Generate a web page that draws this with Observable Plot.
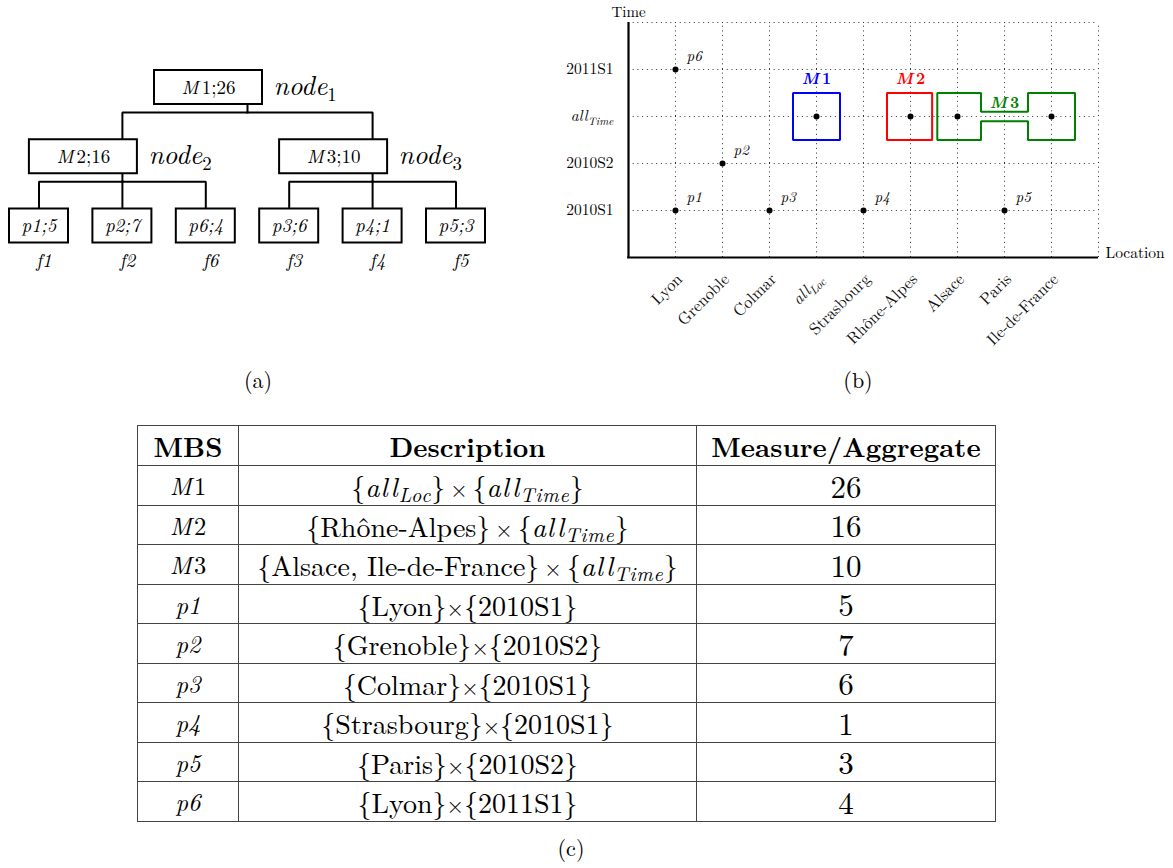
<!DOCTYPE html>
<html>
<head>
<meta charset="utf-8">
<script src="https://cdn.jsdelivr.net/npm/d3@7"></script>
<script src="https://cdn.jsdelivr.net/npm/@observablehq/plot@0.6"></script>
<style>
  html, body { margin: 0; padding: 0; background: #fff; }
  body { width: 1173px; height: 868px; position: relative; overflow: hidden;
         font-family: "Latin Modern Roman", "Liberation Serif", serif; color: #000; }
  .abs { position: absolute; }
  .cap { position: absolute; font-size: 22px; transform: translateX(-50%); line-height: 1; }
  svg { overflow: visible; }
  table.mbs { position: absolute; left: 137px; top: 425px; border-collapse: collapse;
              table-layout: fixed; width: 858px; }
  table.mbs td, table.mbs th { border: 1.3px solid #444; text-align: center; padding: 0;
              height: 38.5px; font-size: 28px; font-weight: normal; line-height: 1; white-space: nowrap; }
  table.mbs th { font-weight: bold; font-size: 27px; height: 39px; }
  table.mbs td.mbsname { font-size: 24.5px; }
  table.mbs td.num { font-size: 31px; }
  sub { font-size: 0.72em; vertical-align: -0.25em; line-height: 0; }
  .math { letter-spacing: 0.03em; }
  .times { font-size: 0.8em; }
  .sp { margin: 0 0.22em; }
</style>
</head>
<body>
<div id="tree" class="abs" style="left:0;top:0"></div>
<div id="cube" class="abs" style="left:540px;top:0"></div>
<div class="cap" style="left:258px;top:368px">(a)</div>
<div class="cap" style="left:858px;top:368px">(b)</div>
<div id="tablewrap"></div>
<div class="cap" style="left:571px;top:836px">(c)</div>
<script>
// ---------------- data ----------------
// (a) tree of MBS nodes
const treeIds     = ["M1", "M2", "M3", "p1", "p2", "p6", "p3", "p4", "p5"];
const treeParents = [null, "M1", "M1", "M2", "M2", "M2", "M3", "M3", "M3"];
const treeValues  = [26, 16, 10, 5, 7, 4, 6, 1, 3];

// (b) location x time grid
const locations = ["Lyon", "Grenoble", "Colmar", "allLoc", "Strasbourg", "Rhône-Alpes", "Alsace", "Paris", "Ile-de-France"];
const times = ["2010S1", "2010S2", "allTime", "2011S1"];
const pointNames = ["p1", "p2", "p3", "p4", "p5", "p6"];
const pointLocations = ["Lyon", "Grenoble", "Colmar", "Strasbourg", "Paris", "Lyon"];
const pointTimes = ["2010S1", "2010S2", "2010S1", "2010S1", "2010S1", "2011S1"];
const mbsNames = ["M1", "M2", "M3"];
const mbsLocations = [["allLoc"], ["Rhône-Alpes"], ["Alsace", "Ile-de-France"]];
const mbsTimes = ["allTime", "allTime", "allTime"];

// (c) table
const tableHeader = ["MBS", "Description", "Measure/Aggregate"];
const tableMbs = ["M1", "M2", "M3", "p1", "p2", "p3", "p4", "p5", "p6"];
const tableDescriptions = [
  "{allLoc} × {allTime}",
  "{Rhône-Alpes} × {allTime}",
  "{Alsace, Ile-de-France} × {allTime}",
  "{Lyon}×{2010S1}",
  "{Grenoble}×{2010S2}",
  "{Colmar}×{2010S1}",
  "{Strasbourg}×{2010S1}",
  "{Paris}×{2010S2}",
  "{Lyon}×{2011S1}"
];
const tableMeasures = [26, 16, 10, 5, 7, 6, 1, 3, 4];

// ---------------- helpers ----------------
const SERIF = "'Latin Modern Roman', 'Liberation Serif', serif";
function richSvgText(svg) {
  svg.querySelectorAll("text").forEach(t => {
    const s = t.textContent;
    let m;
    if ((m = s.match(/^all(Loc|Time)$/))) {
      t.innerHTML = `<tspan font-style="italic">all</tspan><tspan font-style="italic" font-size="0.72em" dy="0.3em">${m[1]}</tspan>`;
    } else if ((m = s.match(/^node(\d)$/))) {
      t.innerHTML = `node<tspan font-size="0.7em" dy="0.3em" font-style="normal">${m[1]}</tspan>`;
    } else if ((m = s.match(/^M(\d);(\d+)$/))) {
      t.innerHTML = `<tspan font-style="italic">M</tspan><tspan dx="3">${m[1]};${m[2]}</tspan>`;
    } else if ((m = s.match(/^M (\d)$/))) {
      t.innerHTML = `<tspan font-style="italic">M</tspan><tspan dx="3" font-style="normal">${m[1]}</tspan>`;
    }
  });
}
function richHtml(s) {
  return s.replace(/all(Loc|Time)/g, (a, b) => `<i class="math">all<sub>${b}</sub></i>`)
          .replace(/ × /g, "<span class='times sp'>×</span>")
          .replace(/×(?!<)/g, "<span class='times'>×</span>");
}
function mbsHtml(s) {
  return s.startsWith("M") ? `<i style="margin-right:0.1em">M</i>${s.slice(1)}` : `<i>${s}</i>`;
}

// ---------------- (a) tree ----------------
{
  const table = treeIds.map((id, i) => ({id, parent: treeParents[i], value: treeValues[i]}));
  const root = d3.stratify().id(d => d.id).parentId(d => d.parent)(table);
  d3.tree().nodeSize([83.4, 69.25]).separation(() => 1)(root);
  const nodes = root.descendants();
  const internal = nodes.filter(d => d.children);
  const leaves = root.leaves();
  const bh = 17; // half box height
  const chart = Plot.plot({
    width: 500, height: 290, margin: 0,
    x: {domain: [-247, 253], range: [0, 500], axis: null},
    y: {domain: [-87, 203], range: [0, 290], axis: null},
    style: {fontFamily: SERIF, background: "transparent"},
    marks: [
      Plot.ruleX(internal, {x: d => d.x, y1: d => d.y + bh, y2: d => d.y + bh + 8, stroke: "black", strokeWidth: 2}),
      Plot.link(nodes.filter(d => d.parent), {
        x1: d => d.parent.x, y1: d => d.parent.y + bh + 8,
        x2: d => d.x, y2: d => d.y - bh,
        curve: "step-after", stroke: "black", strokeWidth: 2, strokeLinejoin: "miter", strokeLinecap: "square"
      }),
      Plot.rect(internal, {x1: d => d.x - 93, x2: d => d.x + 15, y1: d => d.y - bh, y2: d => d.y + bh,
        fill: "white", stroke: "black", strokeWidth: 2}),
      Plot.rect(leaves, {x1: d => d.x - 29.5, x2: d => d.x + 29.5, y1: d => d.y - bh, y2: d => d.y + bh,
        fill: "white", stroke: "black", strokeWidth: 2}),
      Plot.text(internal, {x: d => d.x - 39, y: d => d.y, text: d => `${d.id};${d.data.value}`, fontSize: 19}),
      Plot.text(internal, {x: d => d.x + 26, y: d => d.y, text: (d, i) => `node${i + 1}`, textAnchor: "start",
        fontSize: 27, fontStyle: "italic", dy: -1}),
      Plot.text(leaves, {x: d => d.x, y: d => d.y, text: d => `${d.id};${d.data.value}`, fontSize: 19,
        fontStyle: "italic", letterSpacing: "1px"}),
      Plot.text(leaves, {x: d => d.x + 5, y: d => d.y + 35, text: d => "f" + d.id.slice(1), fontSize: 19,
        fontStyle: "italic"})
    ]
  });
  richSvgText(chart);
  document.getElementById("tree").append(chart);
}

// ---------------- (b) location x time ----------------
{
  const locIndex = new Map(locations.map((d, i) => [d, i + 1]));
  const timeIndex = new Map(times.map((d, i) => [d, i + 1]));
  const nX = locations.length + 1, nY = times.length + 1;
  const points = pointNames.map((name, i) => ({name, x: locIndex.get(pointLocations[i]), y: timeIndex.get(pointTimes[i])}));
  const mbsColors = ["#0000ff", "#ff0000", "#008000"];
  const mbsPad = [[0.5, 0.5], [0.5, 0.46], [0.43, 0.5]];
  const cells = mbsNames.flatMap((name, i) => mbsLocations[i].map(l => ({name, x: locIndex.get(l), y: timeIndex.get(mbsTimes[i])})));
  function outline(i) {
    const xs = mbsLocations[i].map(l => locIndex.get(l));
    const a = d3.min(xs), b = d3.max(xs), y = timeIndex.get(mbsTimes[i]);
    const [pl, pr] = mbsPad[i];
    let pts;
    if (a === b) {
      pts = [[a - pl, y + .5], [b + pr, y + .5], [b + pr, y - .5], [a - pl, y - .5]];
    } else {
      const n = 0.1;
      pts = [[a - pl, y + .5], [a + .5, y + .5], [a + .5, y + n], [b - .5, y + n], [b - .5, y + .5], [b + pr, y + .5],
             [b + pr, y - .5], [b - .5, y - .5], [b - .5, y - n], [a + .5, y - n], [a + .5, y - .5], [a - pl, y - .5]];
    }
    pts.push(pts[0], pts[1]);
    return pts.map(([x, y]) => ({x, y}));
  }
  const mbsLabels = mbsNames.map((name, i) => {
    const xs = mbsLocations[i].map(l => locIndex.get(l));
    const single = xs.length === 1;
    return {name: name[0] + " " + name.slice(1), x: d3.mean(xs), y: timeIndex.get(mbsTimes[i]) + (single ? 0.5 : 0.3), dy: single ? -14 : 0, color: mbsColors[i]};
  });
  const grid = {stroke: "#333", strokeWidth: 1, strokeDasharray: "1,3.7"};
  const chart = Plot.plot({
    width: 633, height: 345,
    marginLeft: 88, marginRight: 75, marginTop: 22, marginBottom: 88,
    x: {domain: [0, nX], axis: null},
    y: {domain: [0, nY], axis: null},
    style: {fontFamily: SERIF, background: "transparent"},
    marks: [
      Plot.ruleX(d3.range(1, nX + 1), {y1: 0, y2: nY, ...grid}),
      Plot.ruleY(d3.range(1, nY + 1), {x1: 0, x2: nX, ...grid}),
      Plot.ruleX([0], {y1: 0, y2: nY, stroke: "black", strokeWidth: 2.2}),
      Plot.ruleY([0], {x1: -0.02, x2: nX, stroke: "black", strokeWidth: 2.2}),
      ...mbsNames.map((name, i) => Plot.line(outline(i), {x: "x", y: "y", stroke: mbsColors[i], strokeWidth: 2,
        strokeLinejoin: "miter", strokeLinecap: "butt"})),
      Plot.dot([...points, ...cells], {x: "x", y: "y", r: 3, fill: "black", stroke: null}),
      Plot.text(points, {x: "x", y: "y", text: "name", dx: 11, dy: -13, textAnchor: "start", fontSize: 15, fontStyle: "italic"}),
      ...mbsLabels.map(d => Plot.text([d], {x: "x", y: "y", text: "name", dy: d.dy, fill: d.color, fontSize: 16,
        fontWeight: "bold", fontStyle: "italic"})),
      Plot.text(times, {x: 0, y: (d, i) => i + 1, text: d => d, dx: -15, textAnchor: "end", fontSize: 15.5}),
      Plot.text(locations, {x: (d, i) => i + 1, y: 0, text: d => d, rotate: -45, textAnchor: "end", dx: 4, dy: 19,
        fontSize: 16.5, fill: "#111"}),
      Plot.text(["Time"], {frameAnchor: "top-left", text: d => d, dy: -16, textAnchor: "middle", fontSize: 15}),
      Plot.text(["Location"], {frameAnchor: "bottom-right", text: d => d, dx: 7, textAnchor: "start", fontSize: 15.5})
    ]
  });
  richSvgText(chart);
  document.getElementById("cube").append(chart);
}

// ---------------- (c) table ----------------
{
  const t = document.createElement("table");
  t.className = "mbs";
  const cg = document.createElement("colgroup");
  [101, 458, 299].forEach(w => { const c = document.createElement("col"); c.style.width = w + "px"; cg.append(c); });
  t.append(cg);
  const hr = t.insertRow();
  tableHeader.forEach(h => { const th = document.createElement("th"); th.textContent = h; hr.append(th); });
  tableMbs.forEach((m, i) => {
    const r = t.insertRow();
    const c1 = r.insertCell(); c1.innerHTML = mbsHtml(m); c1.className = "mbsname";
    const c2 = r.insertCell(); c2.innerHTML = richHtml(tableDescriptions[i]);
    const c3 = r.insertCell(); c3.textContent = tableMeasures[i]; c3.className = "num";
  });
  document.getElementById("tablewrap").append(t);
}
</script>
</body>
</html>
